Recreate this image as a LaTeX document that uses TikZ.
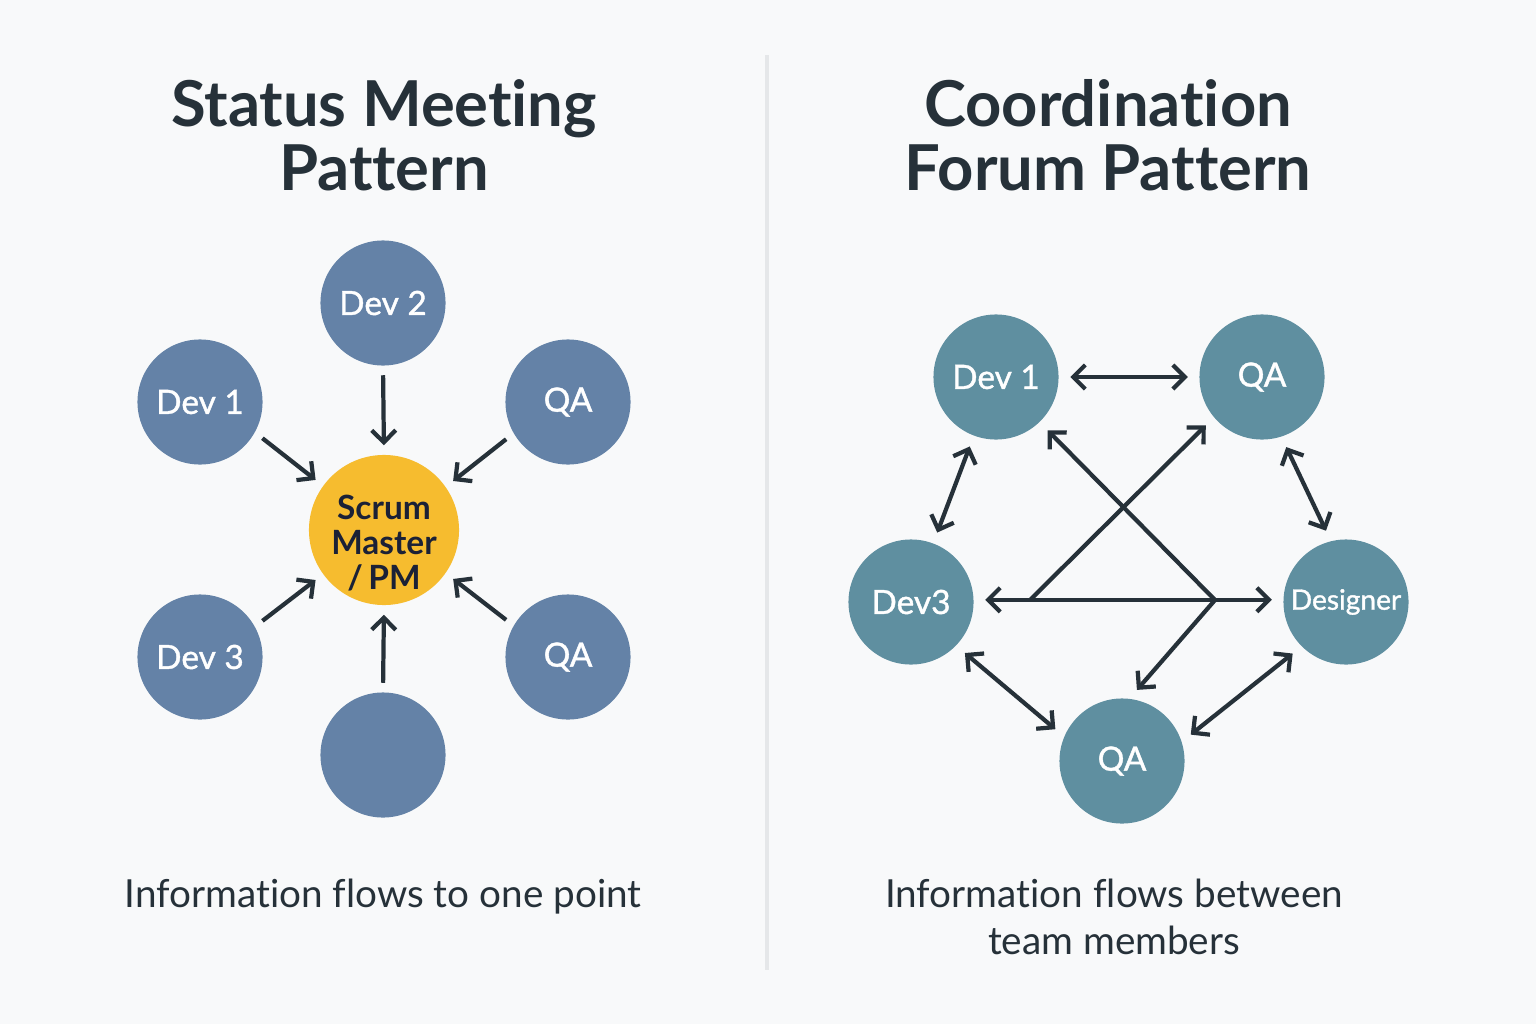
\documentclass[tikz,border=0pt]{standalone}
\usepackage{fontspec}
\setmainfont{Lato}[Ligatures=NoCommon]
\newfontfamily\labelfont{Lato}[Ligatures=NoCommon, FakeBold=1.2]
\usetikzlibrary{arrows.meta}

\definecolor{bgcol}{HTML}{F8F9FA}
\definecolor{dividercol}{HTML}{E5E7E9}
\definecolor{memblue}{HTML}{6482A7}
\definecolor{memteal}{HTML}{5F8FA0}
\definecolor{leadyellow}{HTML}{F6BC2F}
\definecolor{navy}{HTML}{1B2136}
\definecolor{inkcol}{HTML}{263139}

\begin{document}
\begin{tikzpicture}[
  x=0.01cm, y=-0.01cm,
  member/.style={circle, fill=memblue, minimum size=1.25cm, inner sep=0pt, text=white, font=\labelfont\fontsize{9.5}{11}\selectfont},
  forum/.style={member, fill=memteal},
  lead/.style={circle, fill=leadyellow, minimum size=1.5cm, inner sep=0pt},
  leadtext/.style={align=center, text=navy, font=\bfseries\fontsize{9.5}{10}\selectfont},
  flow/.style={draw=inkcol, line width=1.2pt, -{Straight Barb[length=1.2mm, width=2.4mm]}, shorten >=0.09cm, shorten <=0.09cm},
  link/.style={flow, {Straight Barb[length=1.2mm, width=2.4mm]}-{Straight Barb[length=1.2mm, width=2.4mm]}, shorten >=0.11cm, shorten <=0.11cm},
  title/.style={align=center, text=inkcol, font=\bfseries\fontsize{18}{18.3}\selectfont},
  caption/.style={align=center, text=inkcol, font=\fontsize{11}{13.3}\selectfont}
]
\fill[bgcol] (0,0) rectangle (1536,1024);
\draw[dividercol, line width=1pt] (767,55) -- (767,970);

% status meeting: everyone reports to one point
\node[title] (ltitle) at (384,135) {Status Meeting\\Pattern};
\node[lead] (sm) at (384,530) {};
\node[leadtext] (smtext) at ([yshift=-0.13cm]sm.center) {Scrum\\Master\\/\,PM};
\node[member] (dev2) at (383,303) {Dev 2};
\node[member] (dev1) at (200,402) {Dev 1};
\node[member] (qa1)  at (568,402) {QA};
\node[member] (dev3) at (200,657) {Dev 3};
\node[member] (qa2)  at (568,657) {QA};
\node[member] (blank) at (383,755) {};
\foreach \m/\a/\b in {dev2/-90/90, dev1/-29/144, qa1/210/35, dev3/29/216, qa2/150/-35, blank/90/-90}
  \draw[flow] (\m.\a) -- (sm.\b);
\node[caption] (lcap) at (383,897) {Information flows to one point};

% coordination forum: members talk to each other
\node[title] (rtitle) at (1108,135) {Coordination\\Forum Pattern};
\node[forum] (fdev1) at (996,377)  {Dev 1};
\node[forum] (fqa1)  at (1262,377) {QA};
\node[forum] (fdev3) at (911,602)  {Dev3};
\node[forum, font=\labelfont\fontsize{8}{9}\selectfont] (fdes) at (1346,602) {Designer};
\node[forum] (fqa2)  at (1122,761) {QA};
\coordinate (jl) at (1030,600);
\coordinate (jr) at (1215,600);

\draw[link] (fdev1) -- (fqa1);
\draw[link] (fdev1) -- (fdev3);
\draw[link] (fqa1.-72) -- (fdes.104);
\draw[link] (fdev3.-44) -- (fqa2.157);
\draw[link] (fdes.225) -- (fqa2.18);
\draw[link] (fdev3.2) -- (fdes.178);
\draw[flow, shorten <=0pt, shorten >=0.11cm] (jl) -- (fqa1.220);
\draw[flow, shorten <=0pt, shorten >=0.11cm] (jr) -- (fdev1.-46);
\draw[flow, shorten <=0pt, shorten >=0.11cm] (jr) -- (fqa2.83);
\node[caption] (rcap) at (1114,917) {Information flows between\\team members};
\end{tikzpicture}
\end{document}
